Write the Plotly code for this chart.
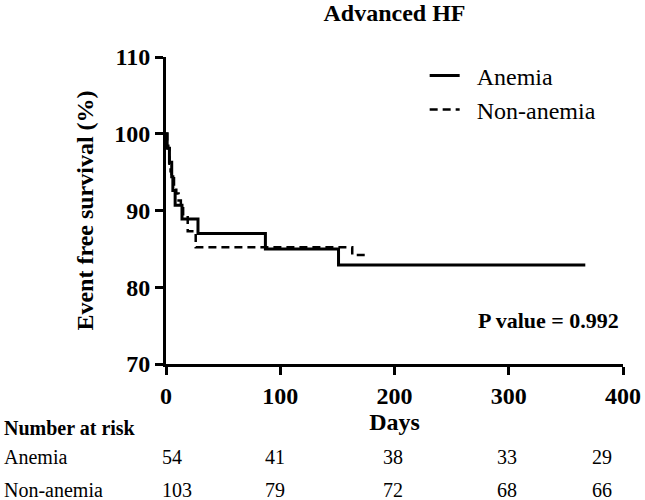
import plotly.graph_objects as go

# ---- data ----
anemia_days = [0, 1, 3, 5, 6, 8, 14, 28, 87, 151, 367]
anemia_surv = [100, 98.1, 96.3, 94.4, 92.6, 90.7, 88.9, 87.0, 85.0, 82.9, 82.9]

non_days = [0, 1, 2, 3, 4, 5, 7, 9, 11, 13, 15, 19, 26, 163, 178]
non_surv = [100, 99.0, 98.1, 96.1, 95.1, 94.2, 93.2, 92.2, 91.3, 90.3, 89.3, 87.3, 85.2, 84.2, 84.2]

risk_times = [0, 100, 200, 300, 400]
risk_anemia = [54, 41, 38, 33, 29]
risk_non = [103, 79, 72, 68, 66]

group_names = ["Anemia", "Non-anemia"]
p_text = "P value = 0.992"

FONT = "Liberation Serif, Times New Roman, serif"

fig = go.Figure()
fig.add_trace(go.Scatter(
    x=anemia_days, y=anemia_surv, mode="lines", line_shape="hv",
    name="\u00a0\u00a0" + group_names[0],
    line=dict(color="black", width=3)))
fig.add_trace(go.Scatter(
    x=non_days, y=non_surv, mode="lines", line_shape="hv",
    name="\u00a0\u00a0" + group_names[1],
    line=dict(color="black", width=2.5, dash="8px,5px")))

axis_common = dict(
    showline=True, linewidth=3, linecolor="black", mirror=False,
    ticks="outside", ticklen=8, tickwidth=3, tickcolor="black",
    showgrid=False, zeroline=False, automargin=False,
    tickfont=dict(family=FONT, size=24, color="black", weight="bold"),
)

fig.update_layout(
    template="none",
    width=645, height=500,
    margin=dict(l=166, r=22, t=57, b=136, autoexpand=False),
    paper_bgcolor="white", plot_bgcolor="white",
    font=dict(family=FONT, color="black"),
    title=dict(text="Advanced HF", x=0.5, xref="paper", y=1 - 13 / 500,
               yref="container", yanchor="middle", xanchor="center",
               font=dict(family=FONT, size=24, color="black", weight="bold")),
    xaxis=dict(range=[0, 400], tickvals=risk_times,
               title=dict(text="Days", standoff=4,
                          font=dict(family=FONT, size=24, color="black", weight="bold")),
               **axis_common),
    yaxis=dict(range=[70, 110], tickvals=[70, 80, 90, 100, 110],
               title=dict(text="Event free survival (%)", standoff=14,
                          font=dict(family=FONT, size=24, color="black", weight="bold")),
               **axis_common),
    legend=dict(x=0.566, y=1.012, xanchor="left", yanchor="top",
                bgcolor="rgba(0,0,0,0)", font=dict(family=FONT, size=24, color="black")),
    showlegend=True,
)

# P value
fig.add_annotation(text="<b>" + p_text + "</b>", xref="paper", yref="paper",
                   x=0.9956, y=0.143, xanchor="right", yanchor="middle",
                   showarrow=False, font=dict(family=FONT, size=22, color="black"))

# Number-at-risk table
row_y = [-0.303, -0.410]
label_x = -0.3596
fig.add_annotation(text="<b>Number at risk</b>", xref="paper", yref="paper",
                   x=label_x, y=-0.2085, xanchor="left", yanchor="middle",
                   showarrow=False, font=dict(family=FONT, size=20, color="black"))
num_shift = [-6, -17, -14, -14, -33]
for name, counts, yy in zip(group_names, [risk_anemia, risk_non], row_y):
    fig.add_annotation(text=name, xref="paper", yref="paper", x=label_x, y=yy,
                       xanchor="left", yanchor="middle", showarrow=False,
                       font=dict(family=FONT, size=20, color="black"))
    for t, c, sh in zip(risk_times, counts, num_shift):
        fig.add_annotation(text=str(c), xref="x", yref="paper", x=t, y=yy,
                           xanchor="left", yanchor="middle", xshift=sh,
                           showarrow=False,
                           font=dict(family=FONT, size=20, color="black"))

fig.write_html("out.html", config={"displayModeBar": False},
               post_script="document.body.style.margin='0';document.body.style.overflow='hidden';")
